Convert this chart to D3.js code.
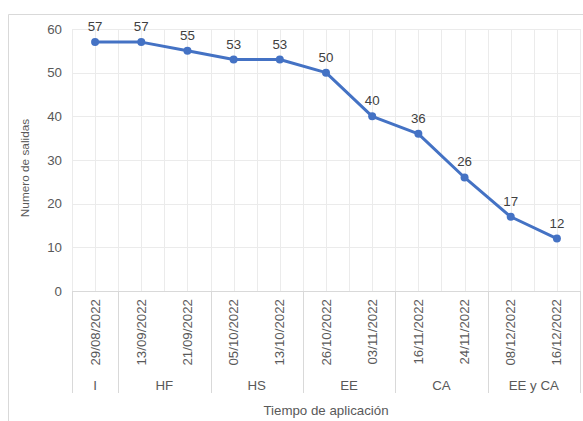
<!DOCTYPE html>
<html>
<head>
<meta charset="utf-8">
<script src="https://cdn.jsdelivr.net/npm/d3@7"></script>
<style>
  body { margin: 0; background: #fff; }
  text { font-family: 'Liberation Sans', Arial, sans-serif; }
</style>
</head>
<body>
<div id="chartArea"></div>
<script>
// data
const fechas = ['29/08/2022', '13/09/2022', '21/09/2022', '05/10/2022', '13/10/2022',
  '26/10/2022', '03/11/2022', '16/11/2022', '24/11/2022', '08/12/2022', '16/12/2022']
const salidas = [57, 57, 55, 53, 53, 50, 40, 36, 26, 17, 12]
const grupos = ['I', 'HF', 'HF', 'HS', 'HS', 'EE', 'EE', 'CA', 'CA', 'EE y CA', 'EE y CA']
const yTicks = [0, 10, 20, 30, 40, 50, 60]

const width = 583
const height = 421
const margin = { top: 29, right: 3, bottom: 130, left: 72 }
const plotRight = width - margin.right
const plotBottom = height - margin.bottom

const blue = '#4472c4'
const gridColor = '#ebebeb'
const sepColor = '#d9d9d9'

const svg = d3.select('#chartArea')
  .append('svg')
  .attr('width', width)
  .attr('height', height)

// outer chart border (top + left only visible)
svg.append('path')
  .attr('d', `M8.5,${height} V14.5 H${width}`)
  .attr('fill', 'none')
  .attr('stroke', sepColor)

const xScale = d3.scaleBand()
  .domain(d3.range(fechas.length))
  .range([margin.left, plotRight])

const yScale = d3.scaleLinear()
  .domain([0, 60])
  .range([plotBottom, margin.top])

// vertical grid at band edges and centres
const vGrid = []
fechas.forEach((_, i) => {
  vGrid.push(xScale(i))
  vGrid.push(xScale(i) + xScale.bandwidth() / 2)
})
vGrid.push(plotRight)

svg.append('g')
  .selectAll('line')
  .data(vGrid)
  .join('line')
  .attr('x1', d => Math.round(d) + 0.5)
  .attr('x2', d => Math.round(d) + 0.5)
  .attr('y1', margin.top)
  .attr('y2', plotBottom)
  .attr('stroke', gridColor)

// horizontal grid
svg.append('g')
  .selectAll('line')
  .data(yTicks)
  .join('line')
  .attr('x1', margin.left)
  .attr('x2', plotRight)
  .attr('y1', d => Math.round(yScale(d)) + 0.5)
  .attr('y2', d => Math.round(yScale(d)) + 0.5)
  .attr('stroke', d => d === 0 ? sepColor : gridColor)

// y tick labels
svg.append('g')
  .selectAll('text')
  .data(yTicks)
  .join('text')
  .attr('x', margin.left - 10)
  .attr('y', d => yScale(d))
  .attr('dy', '0.35em')
  .attr('text-anchor', 'end')
  .attr('font-size', 13.3)
  .attr('fill', '#595959')
  .text(d => d)

// y title
svg.append('text')
  .attr('transform', 'translate(29,168) rotate(-90)')
  .attr('text-anchor', 'middle')
  .attr('font-size', 11.8)
  .attr('fill', '#595959')
  .text('Numero de salidas')

// x axis: dates rotated
svg.append('g')
  .selectAll('text')
  .data(fechas)
  .join('text')
  .attr('transform', (d, i) => `translate(${xScale(i) + xScale.bandwidth() / 2 + 4.5},${plotBottom + 8}) rotate(-90)`)
  .attr('text-anchor', 'end')
  .attr('font-size', 13.3)
  .attr('fill', '#595959')
  .text(d => d)

// groups
const groupSpans = []
grupos.forEach((g, i) => {
  const last = groupSpans[groupSpans.length - 1]
  if (last && last.name === g) last.end = i
  else groupSpans.push({ name: g, start: i, end: i })
})

const sepX = [margin.left].concat(groupSpans.map(s => xScale(s.end) + xScale.bandwidth()))
svg.append('g')
  .selectAll('line')
  .data(sepX)
  .join('line')
  .attr('x1', d => Math.round(d) + 0.5)
  .attr('x2', d => Math.round(d) + 0.5)
  .attr('y1', plotBottom)
  .attr('y2', 393)
  .attr('stroke', sepColor)

svg.append('g')
  .selectAll('text')
  .data(groupSpans)
  .join('text')
  .attr('x', d => (xScale(d.start) + xScale(d.end) + xScale.bandwidth()) / 2)
  .attr('y', 390)
  .attr('text-anchor', 'middle')
  .attr('font-size', 13.3)
  .attr('fill', '#595959')
  .text(d => d.name)

// x title
svg.append('text')
  .attr('x', (margin.left + plotRight) / 2)
  .attr('y', 415)
  .attr('text-anchor', 'middle')
  .attr('font-size', 13.3)
  .attr('fill', '#595959')
  .text('Tiempo de aplicación')

// line
const line = d3.line()
  .x((d, i) => xScale(i) + xScale.bandwidth() / 2)
  .y(d => yScale(d))

svg.append('path')
  .datum(salidas)
  .attr('d', line)
  .attr('fill', 'none')
  .attr('stroke', blue)
  .attr('stroke-width', 3)
  .attr('stroke-linejoin', 'round')

svg.append('g')
  .selectAll('circle')
  .data(salidas)
  .join('circle')
  .attr('cx', (d, i) => xScale(i) + xScale.bandwidth() / 2)
  .attr('cy', d => yScale(d))
  .attr('r', 4)
  .attr('fill', blue)

// data labels
svg.append('g')
  .selectAll('text')
  .data(salidas)
  .join('text')
  .attr('x', (d, i) => xScale(i) + xScale.bandwidth() / 2)
  .attr('y', d => yScale(d) - 11)
  .attr('text-anchor', 'middle')
  .attr('font-size', 13.3)
  .attr('fill', '#404040')
  .text(d => d)
</script>
</body>
</html>
